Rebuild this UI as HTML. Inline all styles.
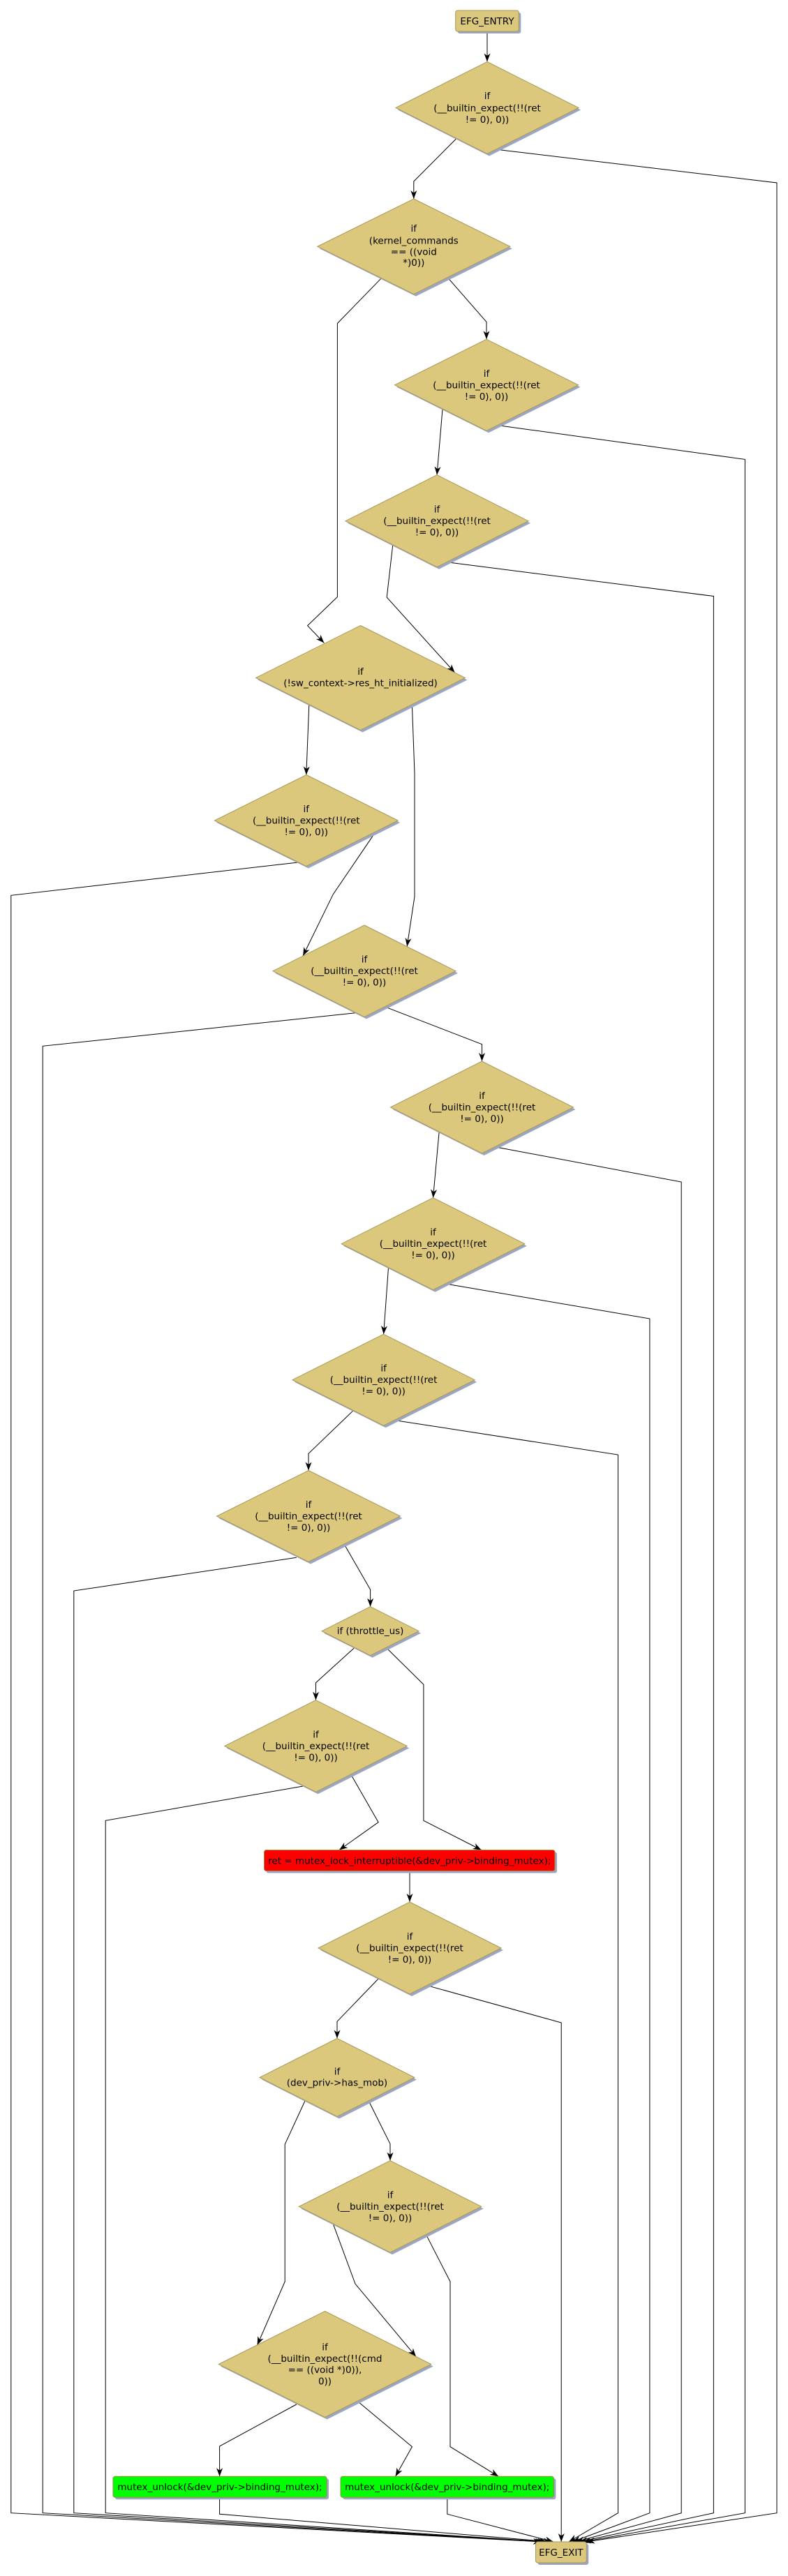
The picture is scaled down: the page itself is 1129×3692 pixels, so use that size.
<!DOCTYPE html>
<html><head><meta charset="utf-8"><style>
html,body{margin:0;padding:0;background:#fff;}
svg{display:block;}
text{font-family:"DejaVu Sans","Liberation Sans",sans-serif;font-size:13.5px;fill:#000;text-anchor:middle;}
.e{fill:none;stroke:#000;stroke-width:1;}
.d{fill:#dbc87d;stroke:#a8985a;stroke-width:1;}
.s{fill:#9ba6c3;}
</style></head><body>
<svg width="1129" height="3692" viewBox="0 0 1129 3692" xmlns="http://www.w3.org/2000/svg">
<defs>
<marker id="a" markerUnits="userSpaceOnUse" markerWidth="14" markerHeight="10" viewBox="-13 -5 14 10" refX="0" refY="0" orient="auto"><path d="M0,0 L-12,-4.5 L-8.5,0 L-12,4.5 Z" fill="#000"/></marker>
</defs>

<!-- edges -->
<g class="e" marker-end="url(#a)">
<polyline points="698,45 698,88.5"/>
<polyline points="653.5,199 592.8,260 592.8,285"/>
<polyline points="711.6,214.3 1113,262 1113,3601.7 840,3643"/>
<polyline points="640.9,397.2 697,461.4 697,486.3"/>
<polyline points="545.8,399.3 483.4,463.5 483.4,855.5 440.6,896.7 464.4,921.5"/>
<polyline points="634,586.6 626,680.7"/>
<polyline points="709,609 1067.4,658.4 1067.4,3601.7 835,3643"/>
<polyline points="562.7,781.5 554.2,856.1 651.6,964"/>
<polyline points="639.8,805.6 1022.4,854.5 1022.4,3601.7 830,3643"/>
<polyline points="442.8,1010 438.8,1110.5"/>
<polyline points="590.4,1010 594,1108 594,1285 583.2,1356.5"/>
<polyline points="538.5,1191.7 477.3,1281.7 434.1,1370"/>
<polyline points="427,1236 15.8,1283.3 15.8,3601.7 776,3643"/>
<polyline points="550.8,1442.7 690.5,1496.7 690.5,1521"/>
<polyline points="509.7,1451.7 61.2,1499.3 61.2,3601.7 779,3643"/>
<polyline points="629.2,1621.7 620.5,1716.7"/>
<polyline points="710.6,1644 976.2,1694 976.2,3601.7 825,3643"/>
<polyline points="556.5,1817 549.6,1912.2"/>
<polyline points="638.6,1840 930.9,1890 930.9,3601.7 820,3643"/>
<polyline points="506.1,2021.7 442,2083.3 442,2107.5"/>
<polyline points="566.6,2035.7 885.5,2085 885.5,3601.7 815,3643"/>
<polyline points="493.2,2213.3 530.6,2278.3 530.6,2302.7"/>
<polyline points="424.8,2232.3 105.8,2280 105.8,3601.7 782,3643"/>
<polyline points="507.6,2361.7 452.5,2411.7 452.5,2436.7"/>
<polyline points="552.9,2361 606.9,2414.3 606.9,2609.3 689.7,2651.5"/>
<polyline points="502.5,2542.7 542.1,2611.7 486,2651.5"/>
<polyline points="434.1,2560 151.2,2609.3 151.2,3601.7 785,3643"/>
<polyline points="587,2681.5 587,2726"/>
<polyline points="542.1,2836 483,2897.3 483,2921.5"/>
<polyline points="612,2845.7 804.2,2899 804.2,3643"/>
<polyline points="437,3011 408.2,3073.3 408.2,3270 368.6,3361"/>
<polyline points="527.7,3010 559,3072.7 559,3096.7"/>
<polyline points="477.3,3187.3 509,3273.3 596.1,3377.7"/>
<polyline points="610.5,3202.7 645,3270 645,3506.7 714.2,3549.3"/>
<polyline points="424.8,3446 314.6,3506 314.6,3549.3"/>
<polyline points="512.6,3441.7 590.4,3506.7 566.6,3549.3"/>
<polyline points="314.6,3579.3 314.6,3603.3 790.5,3643"/>
<polyline points="640.8,3579.3 640.8,3603.3 793,3643"/>
</g>

<!-- shadows -->
<g class="s" transform="translate(3,3)">
<rect x="652.7" y="15" width="90.6" height="30" rx="3"/>
<polygon points="698,88.5 829,154.5 698,220.5 567,154.5"/>
<polygon points="592.8,285 730.8,353.3 592.8,421.6 454.8,353.3"/>
<polygon points="697,486.3 828.5,551.8 697,617.3 565.5,551.8"/>
<polygon points="626,680.7 757,746.7 626,812.7 495,746.7"/>
<polygon points="516.5,896.5 666.5,971.5 516.5,1046.5 366.5,971.5"/>
<polygon points="438.8,1110.5 570.2,1176 438.8,1241.5 307.4,1176"/>
<polygon points="522,1326 653,1391.7 522,1457.4 391,1391.7"/>
<polygon points="690.5,1521 821.5,1587 690.5,1653 559.5,1587"/>
<polygon points="620.5,1716.7 751.8,1782.7 620.5,1848.7 489.2,1782.7"/>
<polygon points="549.6,1912.2 680.2,1977.7 549.6,2043.2 419,1977.7"/>
<polygon points="442,2107.5 573.4,2173 442,2238.5 310.6,2173"/>
<polygon points="530.6,2302.7 600.1,2337.7 530.6,2372.7 461.1,2337.7"/>
<polygon points="452.5,2436.7 583.2,2502.5 452.5,2568.3 321.8,2502.5"/>
<rect x="378.5" y="2651.5" width="416.5" height="30" rx="3"/>
<polygon points="587,2726 718,2792 587,2858 456,2792"/>
<polygon points="483,2921.5 594,2977.5 483,3033.5 372,2977.5"/>
<polygon points="559,3096.7 689.7,3162.5 559,3228.3 428.3,3162.5"/>
<polygon points="465.5,3312.5 617.8,3388.5 465.5,3464.5 313.2,3388.5"/>
<rect x="162" y="3549.3" width="306" height="30" rx="3"/>
<rect x="488" y="3549.3" width="305.4" height="30" rx="3"/>
<rect x="767.5" y="3643" width="72.7" height="30" rx="3"/>
</g>

<!-- nodes -->
<rect class="d" x="652.7" y="15" width="90.6" height="30" rx="3"/>
<text x="698" y="35">EFG_ENTRY</text>

<polygon class="d" points="698,88.5 829,154.5 698,220.5 567,154.5"/>
<text x="698" y="142">if</text><text x="698" y="159.5">(__builtin_expect(!!(ret</text><text x="698" y="176">!= 0), 0))</text>

<polygon class="d" points="592.8,285 730.8,353.3 592.8,421.6 454.8,353.3"/>
<text x="592.8" y="332">if</text><text x="592.8" y="349.5">(kernel_commands</text><text x="592.8" y="365.5">== ((void</text><text x="592.8" y="381">*)0))</text>

<polygon class="d" points="697,486.3 828.5,551.8 697,617.3 565.5,551.8"/>
<text x="697" y="539.8">if</text><text x="697" y="556.3">(__builtin_expect(!!(ret</text><text x="697" y="572.8">!= 0), 0))</text>

<polygon class="d" points="626,680.7 757,746.7 626,812.7 495,746.7"/>
<text x="626" y="734.7">if</text><text x="626" y="751.2">(__builtin_expect(!!(ret</text><text x="626" y="767.7">!= 0), 0))</text>

<polygon class="d" points="516.5,896.5 666.5,971.5 516.5,1046.5 366.5,971.5"/>
<text x="516.5" y="966.8">if</text><text x="516.5" y="983.5">(!sw_context-&gt;res_ht_initialized)</text>

<polygon class="d" points="438.8,1110.5 570.2,1176 438.8,1241.5 307.4,1176"/>
<text x="438.8" y="1164">if</text><text x="438.8" y="1180.5">(__builtin_expect(!!(ret</text><text x="438.8" y="1197">!= 0), 0))</text>

<polygon class="d" points="522,1326 653,1391.7 522,1457.4 391,1391.7"/>
<text x="522" y="1379.7">if</text><text x="522" y="1396.2">(__builtin_expect(!!(ret</text><text x="522" y="1412.7">!= 0), 0))</text>

<polygon class="d" points="690.5,1521 821.5,1587 690.5,1653 559.5,1587"/>
<text x="690.5" y="1575">if</text><text x="690.5" y="1591.5">(__builtin_expect(!!(ret</text><text x="690.5" y="1608">!= 0), 0))</text>

<polygon class="d" points="620.5,1716.7 751.8,1782.7 620.5,1848.7 489.2,1782.7"/>
<text x="620.5" y="1770.7">if</text><text x="620.5" y="1787.2">(__builtin_expect(!!(ret</text><text x="620.5" y="1803.7">!= 0), 0))</text>

<polygon class="d" points="549.6,1912.2 680.2,1977.7 549.6,2043.2 419,1977.7"/>
<text x="549.6" y="1965.7">if</text><text x="549.6" y="1982.2">(__builtin_expect(!!(ret</text><text x="549.6" y="1998.7">!= 0), 0))</text>

<polygon class="d" points="442,2107.5 573.4,2173 442,2238.5 310.6,2173"/>
<text x="442" y="2161">if</text><text x="442" y="2177.5">(__builtin_expect(!!(ret</text><text x="442" y="2194">!= 0), 0))</text>

<polygon class="d" points="530.6,2302.7 600.1,2337.7 530.6,2372.7 461.1,2337.7"/>
<text x="530.6" y="2342.2">if (throttle_us)</text>

<polygon class="d" points="452.5,2436.7 583.2,2502.5 452.5,2568.3 321.8,2502.5"/>
<text x="452.5" y="2490.5">if</text><text x="452.5" y="2507">(__builtin_expect(!!(ret</text><text x="452.5" y="2523.5">!= 0), 0))</text>

<rect x="378.5" y="2651.5" width="416.5" height="30" rx="3" fill="#ff0000" stroke="#a08a40" stroke-width="1"/>
<text x="586.8" y="2671.3">ret = mutex_lock_interruptible(&amp;dev_priv-&gt;binding_mutex);</text>

<polygon class="d" points="587,2726 718,2792 587,2858 456,2792"/>
<text x="587" y="2780">if</text><text x="587" y="2796.5">(__builtin_expect(!!(ret</text><text x="587" y="2813">!= 0), 0))</text>

<polygon class="d" points="483,2921.5 594,2977.5 483,3033.5 372,2977.5"/>
<text x="483" y="2973.5">if</text><text x="483" y="2989.5">(dev_priv-&gt;has_mob)</text>

<polygon class="d" points="559,3096.7 689.7,3162.5 559,3228.3 428.3,3162.5"/>
<text x="559" y="3150.5">if</text><text x="559" y="3167">(__builtin_expect(!!(ret</text><text x="559" y="3183.5">!= 0), 0))</text>

<polygon class="d" points="465.5,3312.5 617.8,3388.5 465.5,3464.5 313.2,3388.5"/>
<text x="465.5" y="3368.5">if</text><text x="465.5" y="3385">(__builtin_expect(!!(cmd</text><text x="465.5" y="3401">== ((void *)0)),</text><text x="465.5" y="3417.5">0))</text>

<rect x="162" y="3549.3" width="306" height="30" rx="3" fill="#00ff00" stroke="#a08a40" stroke-width="1"/>
<text x="315" y="3569">mutex_unlock(&amp;dev_priv-&gt;binding_mutex);</text>

<rect x="488" y="3549.3" width="305.4" height="30" rx="3" fill="#00ff00" stroke="#a08a40" stroke-width="1"/>
<text x="640.7" y="3569">mutex_unlock(&amp;dev_priv-&gt;binding_mutex);</text>

<rect class="d" x="767.5" y="3643" width="72.7" height="30" rx="3"/>
<text x="803.9" y="3663">EFG_EXIT</text>
</svg>
</body></html>
